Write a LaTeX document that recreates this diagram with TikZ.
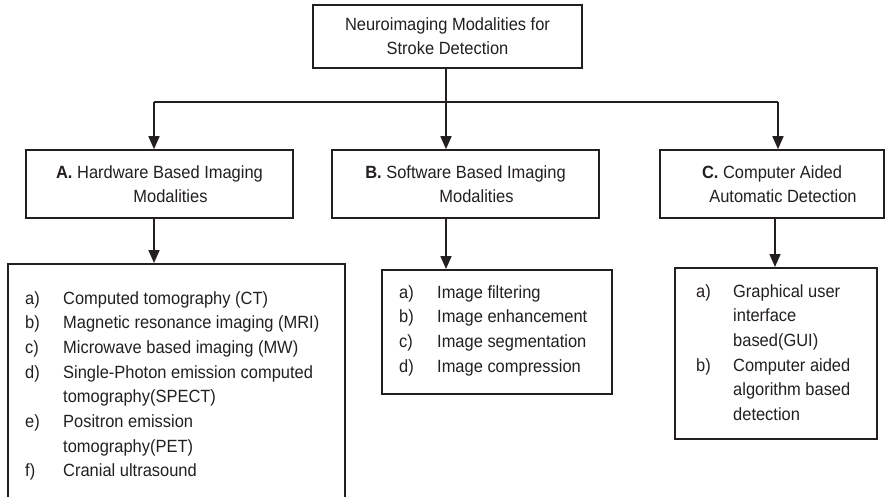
\documentclass[tikz,border=0pt]{standalone}
\usepackage{fontspec}
\setmainfont{Liberation Sans}[FakeStretch=0.93]
\usetikzlibrary{arrows.meta,calc}
\definecolor{ink}{HTML}{231F20}
\begin{document}
\begin{tikzpicture}[x=1pt,y=-1pt,
  box/.style={draw=ink, line width=1.6pt, text=ink, align=center,
    font=\fontsize{17.7}{24}\selectfont, inner sep=0pt},
  listbox/.style={draw=ink, line width=1.6pt, inner sep=0pt, anchor=north west},
  conn/.style={draw=ink, line width=1.6pt},
  arr/.style={conn, -{Triangle[length=13pt,width=11pt]}},
  listtxt/.style={text=ink, inner sep=0pt, anchor=base west,
    font=\fontsize{17.7}{24.7}\selectfont}
]
\useasboundingbox (0,0) rectangle (887,496);
\clip (0,0) rectangle (887,496);

% main boxes
\node[box, minimum width=269pt, minimum height=63pt] (top) at (447.5,36.5)
  {Neuroimaging Modalities for\\Stroke Detection};
\node[box, minimum width=267pt, minimum height=68pt] (boxA) at (159.5,184)
  {\textbf{A.} Hardware Based Imaging\\\hspace*{22pt}Modalities};
\node[box, minimum width=267pt, minimum height=68pt] (boxB) at (465.5,184)
  {\textbf{B.} Software Based Imaging\\\hspace*{22pt}Modalities};
\node[box, minimum width=224pt, minimum height=68pt] (boxC) at (772,184)
  {\textbf{C.} Computer Aided\\\hspace*{22pt}Automatic Detection};

% list boxes
\node[listbox, minimum width=337pt, minimum height=262pt] (listA) at (7,263) {};
\node[listbox, minimum width=230pt, minimum height=124pt] (listB) at (381,269) {};
\node[listbox, minimum width=202pt, minimum height=171pt] (listC) at (674,267) {};

\node[listtxt] (txtA) at ($(listA.north west)+(18,41)$) {\begin{tabular}[t]{@{}p{38pt}@{}l@{}}
a) & Computed tomography (CT)\\
b) & Magnetic resonance imaging (MRI)\\
c) & Microwave based imaging (MW)\\
d) & Single-Photon emission computed\\
   & tomography(SPECT)\\
e) & Positron emission\\
   & tomography(PET)\\
f) & Cranial ultrasound
\end{tabular}};
\node[listtxt] (txtB) at ($(listB.north west)+(18,29)$) {\begin{tabular}[t]{@{}p{38pt}@{}l@{}}
a) & Image filtering\\
b) & Image enhancement\\
c) & Image segmentation\\
d) & Image compression
\end{tabular}};
\node[listtxt] (txtC) at ($(listC.north west)+(22,30)$) {\begin{tabular}[t]{@{}p{37pt}@{}l@{}}
a) & Graphical user\\
   & interface\\
   & based(GUI)\\
b) & Computer aided\\
   & algorithm based\\
   & detection
\end{tabular}};

% connectors
\coordinate (ha) at (154,102);
\coordinate (hb) at (446,102);
\coordinate (hc) at (778,102);
\coordinate (kc) at (775,0);
\draw[conn] (top.south -| hb) -- (hb);
\draw[conn] (ha) -- (hc);
\draw[arr] (ha) -- (ha |- boxA.north);
\draw[arr] (hb) -- (hb |- boxB.north);
\draw[arr] (hc) -- (hc |- boxC.north);
\draw[arr] (boxA.south -| ha) -- (listA.north -| ha);
\draw[arr] (boxB.south -| hb) -- (listB.north -| hb);
\draw[arr] (boxC.south -| kc) -- (listC.north -| kc);
\end{tikzpicture}
\end{document}
